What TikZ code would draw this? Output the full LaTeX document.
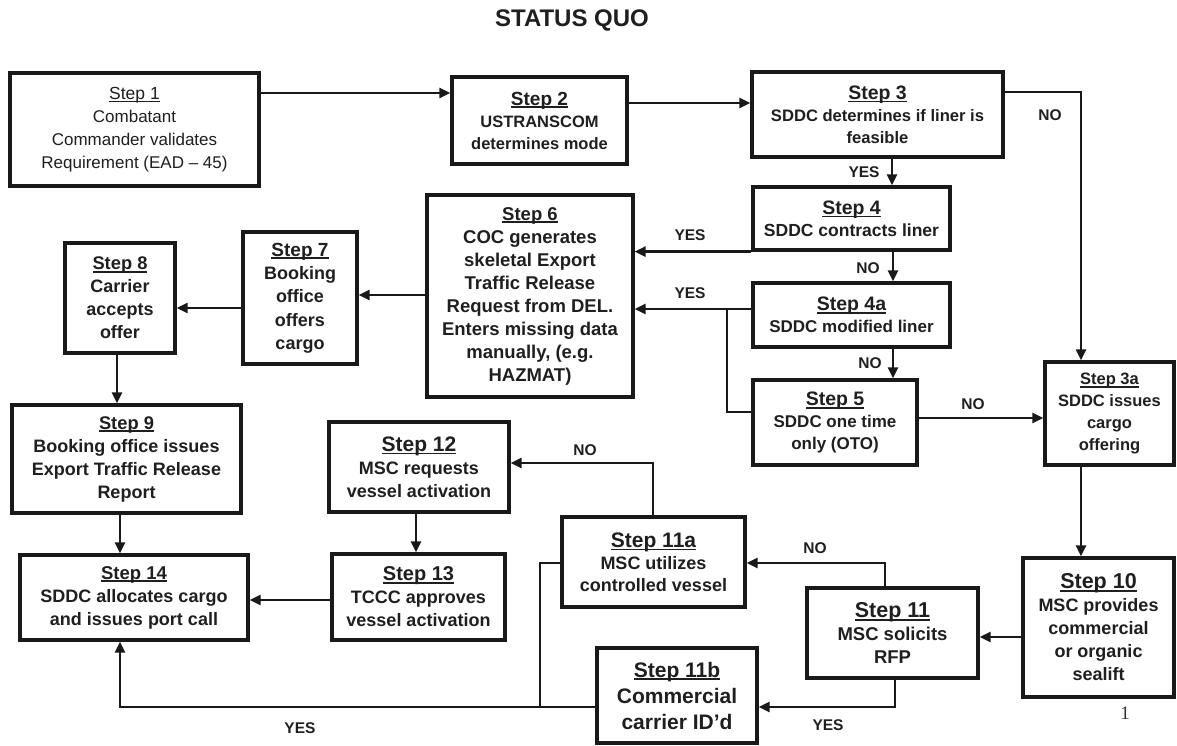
\documentclass[tikz,border=0pt]{standalone}
\usepackage{fontspec}
\setmainfont{Liberation Sans}
\newfontfamily\pgserif{Liberation Serif}
\usetikzlibrary{arrows.meta}
\newcommand\stp[2]{{\fontsize{#1}{23}\selectfont\setbox0\hbox{#2}\rlap{\rule[-3pt]{\wd0}{1.7pt}}\box0}}
\tikzset{
  box/.style={draw=black!90, line width=3.2pt, align=center, inner sep=1pt, text=black!88},
  wh/.style 2 args={minimum width=#1pt, minimum height=#2pt},
  bf/.style 2 args={font=\bfseries\fontsize{#1}{#2}\selectfont},
  rg/.style 2 args={font=\fontsize{#1}{#2}\selectfont},
  arr/.style={draw=black!90, line width=2.6pt, -{Triangle[length=11pt,width=10pt]}},
  ln/.style={draw=black!90, line width=2.6pt},
  lbl/.style={font=\bfseries\fontsize{15.5}{16}\selectfont, text=black!88, inner sep=0pt},
}
\begin{document}
\begin{tikzpicture}[x=1pt,y=-1pt]
\useasboundingbox (0,0) rectangle (1177,746);
\fill[white] (0,0) rectangle (1177,746);

\node[font=\bfseries\fontsize{24}{24}\selectfont, text=black!88] (title) at (572,20) {STATUS QUO};

% boxes
\node[box,wh={249}{113},rg={17}{23}] (s1) at (134.5,129.5)
  {\stp{17.5}{Step 1}\\Combatant\\Commander validates\\Requirement (EAD – 45)};
\node[box,wh={175}{87},bf={16.5}{22}] (s2) at (539.5,120.5)
  {\stp{19}{Step 2}\\USTRANSCOM\\determines mode};
\node[box,wh={251}{85},bf={16.6}{22}] (s3) at (877.5,114.5)
  {\stp{19.5}{Step 3}\\SDDC determines if liner is\\feasible};
\node[box,wh={197}{63},bf={17.5}{22}] (s4) at (851.5,218.5)
  {\stp{19.5}{Step 4}\\SDDC contracts liner};
\node[box,wh={197}{64},bf={17}{22}] (s4a) at (851.5,315)
  {\stp{19.5}{Step 4a}\\SDDC modified liner};
\node[box,wh={164}{85},bf={17}{22}] (s5) at (835,422.5)
  {\stp{19.5}{Step 5}\\SDDC one time\\only (OTO)};
\node[box,wh={206}{202},bf={18.5}{23}] (s6) at (530,296)
  {\stp{18.5}{Step 6}\\COC generates\\skeletal Export\\Traffic Release\\Request from DEL.\\Enters missing data\\manually, (e.g.\\HAZMAT)};
\node[box,wh={114}{132},bf={18}{23.3}] (s7) at (300,298)
  {\stp{19}{Step 7}\\Booking\\office\\offers\\cargo};
\node[box,wh={110}{110},bf={18}{23}] (s8) at (120,298)
  {\stp{18.3}{Step 8}\\Carrier\\accepts\\offer};
\node[box,wh={229}{108},bf={18}{23}] (s9) at (126.5,459)
  {\stp{18.3}{Step 9}\\Booking office issues\\Export Traffic Release\\Report};
\node[box,wh={228}{85},bf={18}{23}] (s14) at (134,597.5)
  {\stp{18.5}{Step 14}\\SDDC allocates cargo\\and issues port call};
\node[box,wh={180}{90},bf={18}{23}] (s12) at (419,467)
  {\stp{21}{Step 12}\\MSC requests\\vessel activation};
\node[box,wh={173}{86},bf={18}{23}] (s13) at (418.5,597)
  {\stp{20}{Step 13}\\TCCC approves\\vessel activation};
\node[box,wh={183}{90},bf={18}{22}] (s11a) at (653.5,562)
  {\stp{21}{Step 11a}\\MSC utilizes\\controlled vessel};
\node[box,wh={171}{90},bf={18.5}{23}] (s11) at (892.5,633)
  {\stp{21.5}{Step 11}\\MSC solicits\\RFP};
\node[box,wh={160}{95},bf={21}{26}] (s11b) at (677,695.5)
  {\stp{21}{Step 11b}\\Commercial\\carrier ID’d};
\node[box,wh={151}{139},bf={18}{23}] (s10) at (1098.5,627.5)
  {\stp{21.5}{Step 10}\\MSC provides\\commercial\\or organic\\sealift};
\node[box,wh={129}{103},bf={16.5}{21.7}] (s3a) at (1109.5,413.5)
  {\stp{16.5}{Step 3a}\\SDDC issues\\cargo\\offering};

\node[font=\pgserif\fontsize{19}{19}\selectfont, text=black!80] (pg) at (1125,713) {1};

% connectors
\draw[arr] (s1.east |- 0,93) -- (s2.west |- 0,93);
\draw[arr] (s2.east |- 0,103) -- (s3.west |- 0,103);
\draw[arr] (s3.south -| 892,0) -- (s4.north -| 892,0);
\node[lbl] (l1) at (864,172) {YES};
\draw[arr] (s3.east |- 0,92) -| (s3a.north -| 1081,0);
\node[lbl] (l2) at (1050,115) {NO};
\draw[arr] (s4.south west) -- (s6.east |- s4.south west);
\node[lbl] (l3) at (690,235) {YES};
\draw[arr] (s4.south -| 893,0) -- (s4a.north -| 893,0);
\node[lbl] (l4) at (868,268) {NO};
\draw[arr] (s4a.west |- 0,309) -- (s6.east |- 0,309);
\node[lbl] (l5) at (690,293) {YES};
\draw[arr] (s4a.south -| 893,0) -- (s5.north -| 893,0);
\node[lbl] (l6) at (870,363) {NO};
\coordinate (j1) at (727,309);
\draw[ln] (j1) |- (s5.west |- 0,412);
\draw[arr] (s5.east |- 0,418) -- (s3a.west |- 0,418);
\node[lbl] (l7) at (973,404) {NO};
\draw[arr] (s3a.south -| 1081,0) -- (s10.north -| 1081,0);
\draw[arr] (s10.west |- 0,637) -- (s11.east |- 0,637);
\draw[arr] (s11.north -| 885,0) |- (s11a.east |- 0,563);
\node[lbl] (l8) at (815,548) {NO};
\draw[arr] (s11.south -| 895,0) |- (s11b.east |- 0,707);
\node[lbl] (l9) at (828,725) {YES};
\draw[arr] (s11a.north -| 653,0) |- (s12.east |- 0,463);
\node[lbl] (l10) at (585,450) {NO};
\draw[arr] (s12.south -| 416,0) -- (s13.north -| 416,0);
\draw[arr] (s13.west |- 0,600) -- (s14.east |- 0,600);
\draw[arr] (s11b.west |- 0,707) -| (s14.south -| 120,0);
\node[lbl] (l11) at (300,728) {YES};
\coordinate (j2) at (540,707);
\draw[ln] (s11a.west |- 0,563) -| (j2);
\draw[arr] (s6.west |- 0,295) -- (s7.east |- 0,295);
\draw[arr] (s7.west |- 0,308) -- (s8.east |- 0,308);
\draw[arr] (s8.south -| 117,0) -- (s9.north -| 117,0);
\draw[arr] (s9.south -| 120,0) -- (s14.north -| 120,0);
\end{tikzpicture}
\end{document}
